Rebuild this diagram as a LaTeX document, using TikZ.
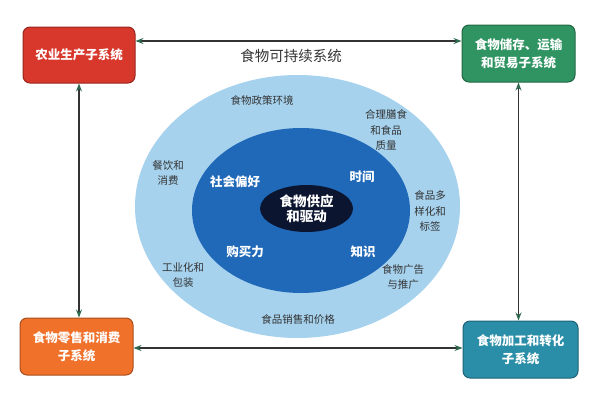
\documentclass[tikz,border=0pt]{standalone}
\usepackage{fontspec}
\setmainfont{Noto Sans CJK SC}
\usetikzlibrary{arrows.meta,shapes.geometric}

\definecolor{rosso}{HTML}{D8372B}
\definecolor{verde}{HTML}{2F9461}
\definecolor{arancio}{HTML}{F0712A}
\definecolor{petrolio}{HTML}{2B8EA8}
\definecolor{celeste}{HTML}{A6D2EE}
\definecolor{blu}{HTML}{1F69B8}
\definecolor{notte}{HTML}{0B1530}
\definecolor{punta}{HTML}{2D6A4F}
\definecolor{grigio}{HTML}{333333}

\begin{document}
\begin{tikzpicture}[x=1pt,y=-1pt,
    sistema/.style={draw=#1!70!black, line width=1pt, fill=#1, rounded corners=7pt,
        minimum width=113pt, minimum height=57pt, align=center, text=white,
        font=\fontsize{12.5}{18}\selectfont\bfseries},
    freccia/.style={draw=grigio, line width=1.2pt,
        {Stealth[length=8pt,width=6pt,color=punta]}-{Stealth[length=8pt,width=6pt,color=punta]}},
    anello/.style={align=center, text=grigio, inner sep=0pt, font=\fontsize{10.5}{15.5}\selectfont},
    medio/.style={align=center, text=white, inner sep=0pt, font=\fontsize{12.5}{15}\selectfont\bfseries}]
    \useasboundingbox (0,0) rectangle (600,400);

    %%%%%%%%%% Ellissi %%%%%%%%%%
    \node[ellipse, fill=celeste, inner sep=0pt,
        minimum width=325pt, minimum height=263pt] (esterno) at (297.5,206.5) {};
    \node[ellipse, fill=blu, inner sep=0pt,
        minimum width=218pt, minimum height=165pt] (medio) at (301,210.5) {};
    \node[ellipse, fill=notte, inner sep=0pt, align=center, text=white,
        minimum width=93pt, minimum height=47pt,
        font=\fontsize{13.5}{15.5}\selectfont\bfseries] (nucleo) at (306.5,208.5) {食物供应\\和驱动};

    %%%%%%%%%% Testi %%%%%%%%%%
    \node[font=\fontsize{14.5}{17}\selectfont, text=grigio] (titolo) at (291,56) {食物可持续系统};

    \node[medio] (preferenze) at (235,182) {社会偏好};
    \node[medio] (tempo) at (362,177) {时间};
    \node[medio] (acquisto) at (245,252) {购买力};
    \node[medio] (conoscenza) at (363,252) {知识};

    \node[anello] (politica) at (262,100) {食物政策环境};
    \node[anello] (dieta) at (386,130) {合理膳食\\和食品\\质量};
    \node[anello] (varieta) at (430,211) {食品多\\样化和\\标签};
    \node[anello] (pubblicita) at (403,277) {食物广告\\与推广};
    \node[anello] (prezzi) at (298,320) {食品销售和价格};
    \node[anello] (industria) at (183,275) {工业化和\\包装};
    \node[anello] (ristorazione) at (168,173) {餐饮和\\消费};

    %%%%%%%%%% Sottosistemi %%%%%%%%%%
    \node[sistema=rosso, minimum width=112pt, minimum height=56pt] (agricoltura) at (79,55) {农业生产子系统};
    \node[sistema=verde] (stoccaggio) at (518.5,53.5) {食物储存、运输\\和贸易子系统};
    \node[sistema=arancio] (vendita) at (76.5,346.5) {食物零售和消费\\子系统};
    \node[sistema=petrolio, minimum width=115pt] (trasformazione) at (520.5,349.5) {食物加工和转化\\子系统};

    %%%%%%%%% Frecce %%%%%%%%%
    \draw[freccia] ([yshift=14pt]agricoltura.east) -- ([yshift=14pt]agricoltura.east -| stoccaggio.west);
    \draw[freccia] (agricoltura.south) -- (agricoltura.south |- vendita.north);
    \draw[freccia] (stoccaggio.south) -- (stoccaggio.south |- trasformazione.north);
    \draw[freccia] ([yshift=-1.5pt]vendita.east) -- ([yshift=-1.5pt]vendita.east -| trasformazione.west);
\end{tikzpicture}
\end{document}
